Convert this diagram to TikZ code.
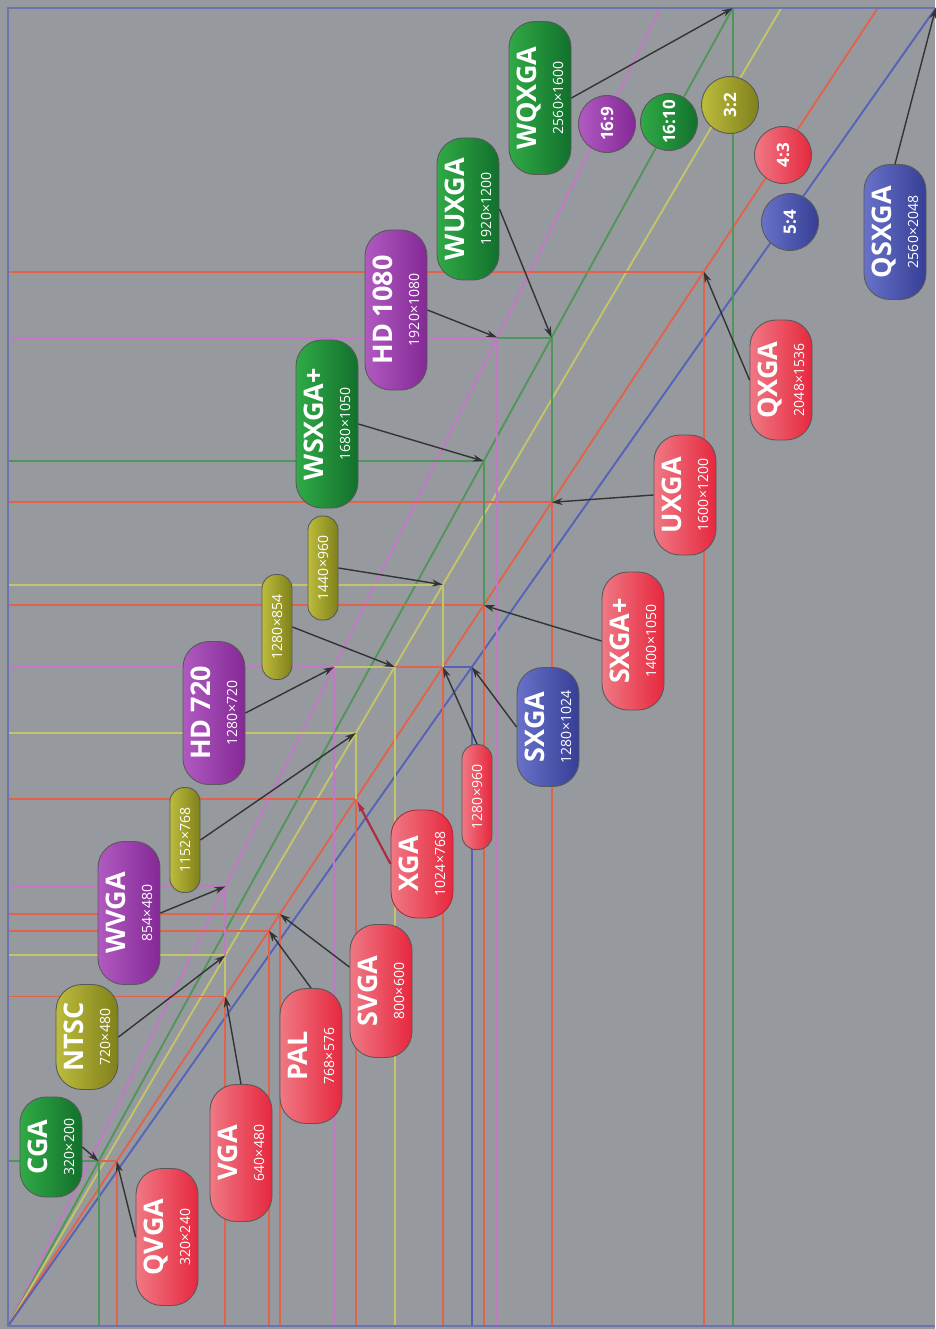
\documentclass[tikz,border=0pt]{standalone}
\usepackage{fontspec}
\setmainfont{Open Sans}
\usetikzlibrary{arrows.meta,calc}
\definecolor{chartbg}{RGB}{150,154,158}
\definecolor{framebl}{RGB}{108,116,172}
\definecolor{lnred}{RGB}{226,98,76}
\definecolor{lngreen}{RGB}{80,150,88}
\definecolor{lnpurple}{RGB}{194,120,198}
\definecolor{lnyellow}{RGB}{196,196,104}
\definecolor{lnblue}{RGB}{86,98,184}
\definecolor{pillred}{RGB}{230,40,62}
\definecolor{pillredlt}{RGB}{240,120,132}
\definecolor{pillgreen}{RGB}{18,112,44}
\definecolor{pillgreenlt}{RGB}{48,170,70}
\definecolor{pillpurple}{RGB}{132,40,150}
\definecolor{pillpurplelt}{RGB}{176,90,192}
\definecolor{pillyellow}{RGB}{128,128,28}
\definecolor{pillyellowlt}{RGB}{188,188,60}
\definecolor{pillblue}{RGB}{54,62,150}
\definecolor{pillbluelt}{RGB}{104,114,200}
\definecolor{xgaarrow}{RGB}{172,44,64}
\newcommand\resname[1]{{\fontsize{27}{27}\selectfont\bfseries #1}}
\newcommand\resdim[1]{{\fontsize{14}{14}\selectfont #1}}
\newcommand\ratiofont{\fontsize{17}{17}\selectfont\bfseries}
\def\kx{0.453}
\def\ky{0.5148}

\begin{document}
\begin{tikzpicture}[
  x=1pt, y=-1pt,
  pill/.style={rotate=90, draw=black!65, line width=0.9pt, rounded corners=26pt,
    minimum height=62pt, inner sep=0pt, text=white, align=center,
    font=\fontsize{14}{27}\selectfont},
  slim/.style={pill, rounded corners=14pt, minimum height=30pt},
  ratio/.style={circle, rotate=90, draw=black!65, line width=0.9pt,
    minimum size=57pt, inner sep=0pt, text=white, font=\ratiofont},
  redfill/.style={left color=pillredlt, right color=pillred},
  greenfill/.style={left color=pillgreenlt, right color=pillgreen},
  purplefill/.style={left color=pillpurplelt, right color=pillpurple},
  yellowfill/.style={left color=pillyellowlt, right color=pillyellow},
  bluefill/.style={left color=pillbluelt, right color=pillblue},
  guide/.style={line width=1.9pt, draw=#1},
  arr/.style={-{Stealth[length=11pt,width=7pt]}, line width=1.4pt, draw=black!80}
]
\useasboundingbox (0,0) rectangle (935,1329);
\fill[chartbg] (0,0) rectangle (935,1329);

% origin and resolution points (width up, height right)
\coordinate (o) at (8,1326);
\foreach \n/\w/\h in {cga/320/200, qvga/320/240, vga/640/480, ntsc/720/480,
    wvga/854/480, pal/768/576, svga/800/600, xga/1024/768, r1152/1152/768,
    hd720/1280/720, r1280a/1280/854, r1280b/1280/960, sxga/1280/1024,
    r1440/1440/960, sxgap/1400/1050, wsxgap/1680/1050, uxga/1600/1200,
    hd1080/1920/1080, wuxga/1920/1200, qxga/2048/1536, wqxga/2560/1600,
    qsxga/2560/2048}
  \coordinate (p-\n) at ({8+\kx*\h},{1326-\ky*\w});

% aspect ratio diagonals
\foreach \h/\c in {1440/lnpurple, 1600/lngreen, 1707/lnyellow, 1920/lnred, 2048/lnblue}
  \draw[guide=\c] (o) -- ({8+\kx*\h},8);

% horizontal guides
\foreach \n/\c in {qxga/lnred, wuxga/lngreen, uxga/lnred, hd1080/lnpurple,
    sxgap/lnred, wsxgap/lngreen, sxga/lnblue, r1280b/lnred, r1440/lnyellow,
    r1280a/lnyellow, xga/lnred, r1152/lnyellow, hd720/lnpurple, svga/lnred,
    pal/lnred, vga/lnred, ntsc/lnyellow, wvga/lnpurple, qvga/lnred, cga/lngreen}
  \draw[guide=\c] (o |- p-\n) -- (p-\n);

% vertical guides
\foreach \n/\c in {wqxga/lngreen, qxga/lnred, wuxga/lngreen, hd1080/lnpurple,
    wsxgap/lngreen, uxga/lnred, r1440/lnyellow, sxgap/lnred, sxga/lnblue,
    r1280b/lnred, r1280a/lnyellow, hd720/lnpurple, r1152/lnyellow, xga/lnred,
    wvga/lnpurple, svga/lnred, pal/lnred, ntsc/lnyellow, vga/lnred,
    qvga/lnred, cga/lngreen}
  \draw[guide=\c] (p-\n) -- (p-\n |- o);

% frame
\draw[framebl, line width=2pt] (935,8) -- (8,8) -- (8,1326) -- (935,1326);

% resolutions
\node[pill, greenfill, minimum width=100pt] (cga) at (51,1147) {\resname{CGA}\\\resdim{320×200}};
\node[pill, redfill, minimum width=137pt] (qvga) at (167,1237) {\resname{QVGA}\\\resdim{320×240}};
\node[pill, redfill, minimum width=137pt] (vga) at (241,1153) {\resname{VGA}\\\resdim{640×480}};
\node[pill, yellowfill, minimum width=105pt] (ntsc) at (87,1037) {\resname{NTSC}\\\resdim{720×480}};
\node[pill, purplefill, minimum width=143pt] (wvga) at (129,913) {\resname{WVGA}\\\resdim{854×480}};
\node[pill, redfill, minimum width=135pt] (pal) at (311,1056) {\resname{PAL}\\\resdim{768×576}};
\node[pill, redfill, minimum width=133pt] (svga) at (381,991) {\resname{SVGA}\\\resdim{800×600}};
\node[slim, yellowfill, minimum width=105pt] (r1152) at (185,840) {\resdim{1152×768}};
\node[pill, redfill, draw=xgaarrow, minimum width=108pt] (xga) at (422,864) {\resname{XGA}\\\resdim{1024×768}};
\node[pill, purplefill, minimum width=143pt] (hd720) at (214,713) {\resname{HD 720}\\\resdim{1280×720}};
\node[slim, yellowfill, minimum width=105pt] (r1280a) at (277,627) {\resdim{1280×854}};
\node[slim, redfill, minimum width=105pt] (r1280b) at (477,797) {\resdim{1280×960}};
\node[pill, bluefill, minimum width=119pt] (sxga) at (548,727) {\resname{SXGA}\\\resdim{1280×1024}};
\node[slim, yellowfill, minimum width=104pt] (r1440) at (323,568) {\resdim{1440×960}};
\node[pill, redfill, minimum width=138pt] (sxgap) at (633,641) {\resname{SXGA+}\\\resdim{1400×1050}};
\node[pill, greenfill, minimum width=168pt] (wsxgap) at (327,424) {\resname{WSXGA+}\\\resdim{1680×1050}};
\node[pill, redfill, minimum width=120pt] (uxga) at (685,495) {\resname{UXGA}\\\resdim{1600×1200}};
\node[pill, purplefill, minimum width=160pt] (hd1080) at (396,310) {\resname{HD 1080}\\\resdim{1920×1080}};
\node[pill, greenfill, minimum width=142pt] (wuxga) at (468,209) {\resname{WUXGA}\\\resdim{1920×1200}};
\node[pill, redfill, minimum width=120pt] (qxga) at (781,380) {\resname{QXGA}\\\resdim{2048×1536}};
\node[pill, greenfill, minimum width=153pt] (wqxga) at (540,98) {\resname{WQXGA}\\\resdim{2560×1600}};
\node[pill, bluefill, minimum width=135pt] (qsxga) at (895,232) {\resname{QSXGA}\\\resdim{2560×2048}};

% aspect ratios
\node[ratio, purplefill] (r169) at (607,124) {16:9};
\node[ratio, greenfill] (r1610) at (669,122) {16:10};
\node[ratio, yellowfill] (r32) at (730,105) {3:2};
\node[ratio, redfill] (r43) at (783,155) {4:3};
\node[ratio, bluefill] (r54) at (790,222) {5:4};

% pointers
\draw[arr] (cga.south) -- (p-cga);
\draw[arr] (qvga.north) -- (p-qvga);
\draw[arr] (vga.east) -- (p-vga);
\draw[arr] (ntsc.south) -- (p-ntsc);
\draw[arr] (wvga.south) -- (p-wvga);
\draw[arr] (pal.east) -- (p-pal);
\draw[arr] (svga) -- (p-svga);
\draw[arr] (r1152.south) -- (p-r1152);
\draw[arr, draw=xgaarrow, line width=2.2pt, -{Latex[length=13pt,width=6pt]}] (xga.north) -- (p-xga);
\draw[arr] (hd720.south) -- (p-hd720);
\draw[arr] (r1280a.south) -- (p-r1280a);
\draw[arr] (r1280b.east) -- (p-r1280b);
\draw[arr] (sxga.north) -- (p-sxga);
\draw[arr] (r1440.south) -- (p-r1440);
\draw[arr] (sxgap.north) -- (p-sxgap);
\draw[arr] (uxga.north) -- (p-uxga);
\draw[arr] (qxga.north) -- (p-qxga);
\draw[arr] (wsxgap.south) -- (p-wsxgap);
\draw[arr] (hd1080.south) -- (p-hd1080);
\draw[arr] (wuxga.south) -- (p-wuxga);
\draw[arr] (wqxga.south) -- (p-wqxga);
\draw[arr] (qsxga.east) -- (p-qsxga);
\end{tikzpicture}
\end{document}
